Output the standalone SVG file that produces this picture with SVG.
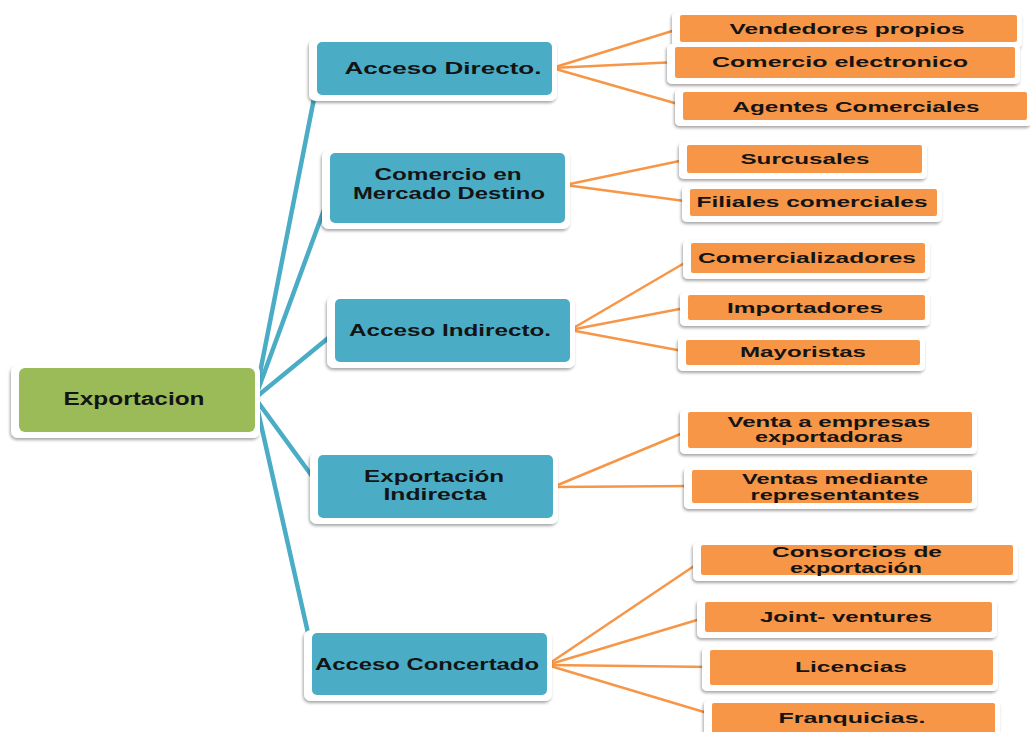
<svg xmlns="http://www.w3.org/2000/svg" width="1030" height="732" viewBox="0 0 1030 732">
  <defs>
    <filter id="shadow" x="-10%" y="-30%" width="120%" height="170%">
      <feDropShadow dx="-1" dy="2" stdDeviation="1.6" flood-color="#000" flood-opacity="0.35"/>
    </filter>
  </defs>
  <style>
    .card { fill: #ffffff; filter: url(#shadow); }
    .root { fill: #9bbb59; }
    .branch { fill: #4bacc6; }
    .leaf { fill: #f79646; }
    .lbl { font-family: "Liberation Sans", Arial, sans-serif; font-weight: bold; fill: #141414; text-anchor: middle; }
    .big { font-size: 17px; }
    .small { font-size: 15.5px; }
    .trunk { stroke: #4bacc6; stroke-width: 4.5; fill: none; stroke-linecap: round; }
    .twig { stroke: #f79646; stroke-width: 2.5; fill: none; stroke-linecap: round; }
  </style>

  <rect width="1030" height="732" fill="#ffffff"/>

  <!-- connectors -->
  <g id="connectors">
    <line class="trunk" x1="255" y1="398" x2="320" y2="68"/>
    <line class="trunk" x1="255" y1="398" x2="332" y2="188"/>
    <line class="trunk" x1="255" y1="398" x2="338" y2="330"/>
    <line class="trunk" x1="255" y1="398" x2="320" y2="487"/>
    <line class="trunk" x1="255" y1="398" x2="315" y2="664"/>

    <line class="twig" x1="552" y1="68" x2="682" y2="28"/>
    <line class="twig" x1="552" y1="68" x2="677" y2="62"/>
    <line class="twig" x1="552" y1="68" x2="685" y2="106"/>

    <line class="twig" x1="565" y1="185" x2="689" y2="159"/>
    <line class="twig" x1="565" y1="185" x2="692" y2="202"/>

    <line class="twig" x1="570" y1="330" x2="693" y2="258"/>
    <line class="twig" x1="570" y1="330" x2="690" y2="307"/>
    <line class="twig" x1="570" y1="330" x2="688" y2="352"/>

    <line class="twig" x1="553" y1="487" x2="690" y2="430"/>
    <line class="twig" x1="553" y1="487" x2="694" y2="486"/>

    <line class="twig" x1="547" y1="665" x2="703" y2="560"/>
    <line class="twig" x1="547" y1="665" x2="707" y2="617"/>
    <line class="twig" x1="547" y1="665" x2="712" y2="667"/>
    <line class="twig" x1="547" y1="665" x2="714" y2="715"/>
  </g>

  <!-- root -->
  <g id="exportacion">
    <rect class="card" x="11" y="365" width="249" height="73" rx="7"/>
    <rect class="root" x="19" y="368" width="236" height="64" rx="6"/>
    <text class="lbl" x="134" y="405" font-size="18" textLength="141" lengthAdjust="spacingAndGlyphs">Exportacion</text>
  </g>

  <!-- second level -->
  <g id="acceso-directo">
    <rect class="card" x="309" y="39" width="248" height="62" rx="7"/>
    <rect class="branch" x="317" y="42" width="235" height="53" rx="5"/>
    <text class="lbl big" x="443" y="74" textLength="197" lengthAdjust="spacingAndGlyphs">Acceso Directo.</text>
  </g>

  <g id="comercio-mercado-destino">
    <rect class="card" x="322" y="150" width="248" height="79" rx="7"/>
    <rect class="branch" x="330" y="153" width="235" height="70" rx="5"/>
    <text class="lbl big" x="448" y="180" textLength="147" lengthAdjust="spacingAndGlyphs">Comercio en</text>
    <text class="lbl big" x="449" y="199" textLength="192" lengthAdjust="spacingAndGlyphs">Mercado Destino</text>
  </g>

  <g id="acceso-indirecto">
    <rect class="card" x="327" y="296" width="248" height="72" rx="7"/>
    <rect class="branch" x="335" y="299" width="235" height="63" rx="5"/>
    <text class="lbl big" x="450" y="336" textLength="202" lengthAdjust="spacingAndGlyphs">Acceso Indirecto.</text>
  </g>

  <g id="exportacion-indirecta">
    <rect class="card" x="310" y="452" width="248" height="72" rx="7"/>
    <rect class="branch" x="318" y="455" width="235" height="63" rx="5"/>
    <text class="lbl big" x="434" y="482" textLength="140" lengthAdjust="spacingAndGlyphs">Exportación</text>
    <text class="lbl big" x="435" y="500" textLength="103" lengthAdjust="spacingAndGlyphs">Indirecta</text>
  </g>

  <g id="acceso-concertado">
    <rect class="card" x="304" y="630" width="248" height="71" rx="7"/>
    <rect class="branch" x="312" y="633" width="235" height="62" rx="5"/>
    <text class="lbl big" x="427" y="670" textLength="224" lengthAdjust="spacingAndGlyphs">Acceso Concertado</text>
  </g>

  <!-- third level -->
  <g id="vendedores-propios">
    <rect class="card" x="672" y="12" width="350" height="36" rx="5"/>
    <rect class="leaf" x="680" y="15" width="337" height="27" rx="2"/>
    <text class="lbl small" x="847" y="34" textLength="235" lengthAdjust="spacingAndGlyphs">Vendedores propios</text>
  </g>

  <g id="comercio-electronico">
    <rect class="card" x="667" y="44" width="353" height="40" rx="5"/>
    <rect class="leaf" x="675" y="47" width="340" height="31" rx="2"/>
    <text class="lbl small" x="840" y="67" textLength="256" lengthAdjust="spacingAndGlyphs">Comercio electronico</text>
  </g>

  <g id="agentes-comerciales">
    <rect class="card" x="675" y="89" width="357" height="37" rx="5"/>
    <rect class="leaf" x="683" y="92" width="344" height="28" rx="2"/>
    <text class="lbl small" x="856" y="112" textLength="247" lengthAdjust="spacingAndGlyphs">Agentes Comerciales</text>
  </g>

  <g id="surcusales">
    <rect class="card" x="679" y="142" width="248" height="37" rx="5"/>
    <rect class="leaf" x="687" y="145" width="235" height="28" rx="2"/>
    <text class="lbl small" x="805" y="164" textLength="129" lengthAdjust="spacingAndGlyphs">Surcusales</text>
  </g>

  <g id="filiales-comerciales">
    <rect class="card" x="682" y="186" width="260" height="36" rx="5"/>
    <rect class="leaf" x="690" y="189" width="247" height="27" rx="2"/>
    <text class="lbl small" x="812" y="207" textLength="231" lengthAdjust="spacingAndGlyphs">Filiales comerciales</text>
  </g>

  <g id="comercializadores">
    <rect class="card" x="683" y="240" width="247" height="39" rx="5"/>
    <rect class="leaf" x="691" y="243" width="234" height="30" rx="2"/>
    <text class="lbl small" x="807" y="263" textLength="218" lengthAdjust="spacingAndGlyphs">Comercializadores</text>
  </g>

  <g id="importadores">
    <rect class="card" x="680" y="292" width="250" height="34" rx="5"/>
    <rect class="leaf" x="688" y="295" width="237" height="25" rx="2"/>
    <text class="lbl small" x="805" y="313" textLength="156" lengthAdjust="spacingAndGlyphs">Importadores</text>
  </g>

  <g id="mayoristas">
    <rect class="card" x="678" y="337" width="247" height="34" rx="5"/>
    <rect class="leaf" x="686" y="340" width="234" height="25" rx="2"/>
    <text class="lbl small" x="803" y="357" textLength="126" lengthAdjust="spacingAndGlyphs">Mayoristas</text>
  </g>

  <g id="venta-empresas-exportadoras">
    <rect class="card" x="680" y="409" width="297" height="45" rx="5"/>
    <rect class="leaf" x="688" y="412" width="284" height="36" rx="2"/>
    <text class="lbl small" x="829" y="427" textLength="203" lengthAdjust="spacingAndGlyphs">Venta a empresas</text>
    <text class="lbl small" x="829" y="442" textLength="148" lengthAdjust="spacingAndGlyphs">exportadoras</text>
  </g>

  <g id="ventas-mediante-representantes">
    <rect class="card" x="684" y="467" width="293" height="42" rx="5"/>
    <rect class="leaf" x="692" y="470" width="280" height="33" rx="2"/>
    <text class="lbl small" x="835" y="484" textLength="186" lengthAdjust="spacingAndGlyphs">Ventas mediante</text>
    <text class="lbl small" x="835" y="500" textLength="169" lengthAdjust="spacingAndGlyphs">representantes</text>
  </g>

  <g id="consorcios-exportacion">
    <rect class="card" x="693" y="542" width="325" height="39" rx="5"/>
    <rect class="leaf" x="701" y="545" width="312" height="30" rx="2"/>
    <text class="lbl small" x="857" y="557" textLength="170" lengthAdjust="spacingAndGlyphs">Consorcios de</text>
    <text class="lbl small" x="856" y="573" textLength="132" lengthAdjust="spacingAndGlyphs">exportación</text>
  </g>

  <g id="joint-ventures">
    <rect class="card" x="697" y="599" width="300" height="39" rx="5"/>
    <rect class="leaf" x="705" y="602" width="287" height="30" rx="2"/>
    <text class="lbl small" x="846" y="622" textLength="172" lengthAdjust="spacingAndGlyphs">Joint- ventures</text>
  </g>

  <g id="licencias">
    <rect class="card" x="702" y="647" width="296" height="44" rx="5"/>
    <rect class="leaf" x="710" y="650" width="283" height="35" rx="2"/>
    <text class="lbl small" x="851" y="672" textLength="112" lengthAdjust="spacingAndGlyphs">Licencias</text>
  </g>

  <g id="franquicias">
    <rect class="card" x="704" y="700" width="296" height="49" rx="5"/>
    <rect class="leaf" x="712" y="703" width="283" height="40" rx="2"/>
    <text class="lbl small" x="852" y="723" textLength="147" lengthAdjust="spacingAndGlyphs">Franquicias.</text>
  </g>
</svg>
